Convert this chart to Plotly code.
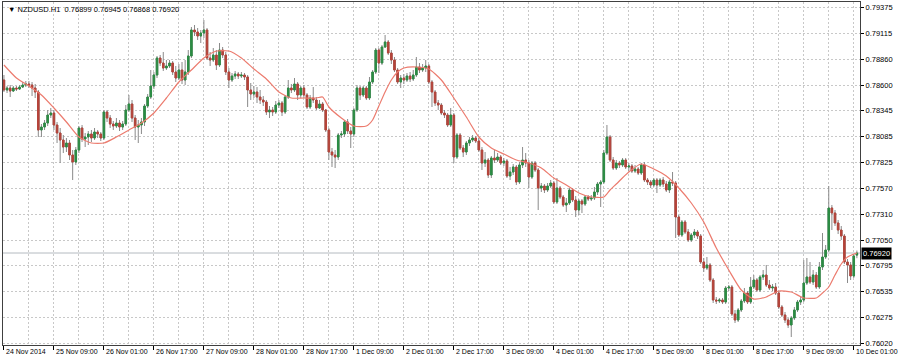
import plotly.graph_objects as go

symbol = "NZDUSD.H1"

# Hourly OHLC in pips (price = value / 10000), bars 0..273
open_p = [
 7865,7855,7857,7854,7857,7856,7858,7860,7861,7860, 7857,7853,7815,7818,7822,7830,7832,7820,7812,7805,
 7798,7802,7790,7783,7795,7817,7806,7808,7811,7807, 7813,7811,7807,7833,7827,7821,7819,7822,7818,7821,
 7835,7841,7827,7818,7820,7823,7839,7848,7859,7870, 7887,7882,7877,7879,7882,7873,7867,7875,7865,7873,
 7889,7915,7913,7909,7912,7915,7887,7885,
 7890,7880,7895,7890,7873,7865,7869,7871,7869,7870, 7868,7855,7851,7853,7848,7845,7843,7833,7835,7833,
 7840,7842,7833,7848,7857,7855,7861,7850,7857,7850, 7838,7847,7845,7837,7841,7835,7815,7793,7790,7788,
 7810,7811,7823,7814,7811,7835,7857,7850,7857,7847, 7863,7873,7895,7882,7898,7903,7892,7885,7875,7863,
 7867,7865,7869,7866,7870,7878,7875,7877,7879,7863,
 7853,7842,7840,7832,7830,7820,7830,7788,7810,7797, 7793,7802,7805,7807,7804,7795,7782,7785,7770,7787,
 7785,7788,7782,7784,7769,7773,7778,7763,7780,7785, 7782,7768,7782,7775,7757,7759,7755,7759,7762,7743,
 7757,7748,7740,7742,7755,7745,7735,7744,7741,7748, 7746,7747,7753,7761,7763,7792,7808,7785,7777,7782,
 7780,7785,7778,7779,7774,7776,7772,7780,
 7765,7763,7760,7765,7760,7765,7761,7755,7763,7762, 7728,7710,7723,7713,7705,7710,7713,7709,7683,7677,
 7680,7665,7645,7644,7645,7643,7657,7658,7631,7625, 7635,7644,7652,7643,7658,7665,7655,7668,7670,7660,
 7657,7658,7652,7638,7630,7625,7620,7627,7635,7643, 7645,7662,7668,7663,7670,7658,7678,7688,7695,7737,
 7732,7722,7715,7709,7683,7680,7669,7689.9]
high_p = [
 7870,7859,7860,7859,7859,7860,7863,7864,7864,7863, 7861,7855,7821,7825,7835,7837,7835,7823,7817,7810,
 7807,7805,7795,7798,7819,7820,7812,7814,7815,7817, 7815,7813,7835,7835,7830,7824,7827,7825,7824,7840,
 7850,7845,7830,7825,7827,7841,7851,7875,7873,7889, 7890,7893,7885,7885,7884,7879,7881,7883,7885,7895,
 7918,7920,7917,7915,7925,7917,7893,7897,
 7895,7902,7898,7893,7877,7872,7874,7873,7873,7872, 7870,7862,7859,7858,7855,7849,7845,7839,7838,7844,
 7845,7844,7850,7865,7861,7867,7863,7859,7860,7852, 7850,7858,7848,7845,7843,7836,7817,7797,7795,7812,
 7814,7825,7826,7818,7837,7860,7859,7859,7859,7868, 7875,7897,7897,7900,7910,7905,7895,7888,7877,7870,
 7871,7872,7873,7875,7888,7882,7881,7885,7881,7865,
 7855,7845,7842,7835,7832,7837,7832,7812,7812,7800, 7804,7808,7810,7809,7807,7798,7793,7787,7789,7795,
 7792,7790,7787,7786,7778,7781,7780,7783,7798,7792, 7785,7784,7784,7777,7762,7761,7762,7765,7764,7767,
 7759,7750,7747,7757,7757,7749,7746,7746,7750,7750, 7750,7758,7763,7765,7795,7820,7810,7788,7785,7784,
 7787,7787,7782,7781,7780,7778,7782,7783,
 7767,7765,7767,7767,7767,7768,7764,7765,7773,7764, 7730,7725,7725,7716,7712,7716,7715,7711,7687,7688,
 7682,7667,7648,7647,7647,7659,7660,7660,7635,7637, 7646,7657,7654,7668,7670,7667,7670,7675,7680,7665,
 7661,7662,7654,7640,7633,7627,7629,7638,7645,7649, 7685,7687,7683,7675,7673,7683,7712,7700,7759,7740,
 7735,7725,7719,7711,7686,7683,7691,7694.5]
low_p = [
 7853,7852,7848,7853,7854,7855,7857,7858,7857,7849, 7847,7808,7808,7815,7819,7827,7815,7802,7782,7792,
 7793,7785,7765,7780,7792,7803,7798,7800,7803,7805, 7807,7804,7805,7823,7817,7815,7817,7814,7815,7819,
 7833,7823,7805,7802,7811,7819,7837,7846,7856,7867, 7879,7874,7875,7877,7870,7863,7865,7861,7860,7870,
 7887,7909,7905,7902,7907,7885,7879,7883,
 7875,7878,7887,7870,7857,7863,7866,7866,7867,7865, 7838,7845,7847,7842,7841,7839,7830,7827,7829,7831,
 7837,7829,7831,7846,7852,7853,7845,7847,7847,7836, 7836,7842,7835,7836,7833,7813,7785,7778,7777,7785,
 7807,7808,7811,7797,7808,7833,7845,7848,7845,7845, 7861,7871,7872,7880,7897,7890,7881,7873,7861,7857,
 7861,7863,7863,7864,7868,7872,7873,7873,7861,7838,
 7839,7835,7830,7827,7818,7818,7782,7786,7795,7788, 7790,7799,7803,7802,7793,7775,7778,7767,7767,7782,
 7783,7780,7779,7767,7765,7770,7760,7761,7777,7778, 7757,7766,7773,7735,7753,7752,7753,7757,7741,7741,
 7746,7738,7733,7740,7743,7728,7730,7732,7739,7744, 7744,7745,7750,7738,7761,7790,7783,7775,7775,7777,
 7778,7776,7774,7772,7772,7770,7770,7763,
 7760,7757,7758,7752,7758,7758,7753,7752,7759,7707, 7708,7708,7711,7703,7703,7707,7706,7681,7673,7675,
 7663,7642,7641,7642,7641,7641,7654,7629,7622,7623, 7633,7642,7641,7641,7656,7653,7653,7665,7658,7655,
 7654,7650,7636,7628,7622,7617,7608,7625,7633,7640, 7643,7660,7661,7660,7656,7656,7675,7686,7693,7715,
 7719,7711,7705,7681,7662,7665,7667,7686.8]
close_p = [
 7855,7857,7854,7857,7856,7858,7860,7861,7860,7857, 7853,7815,7818,7822,7830,7832,7820,7812,7805,7798,
 7802,7790,7783,7795,7817,7806,7808,7811,7807,7813, 7811,7807,7833,7827,7821,7819,7822,7818,7821,7835,
 7841,7827,7818,7820,7823,7839,7848,7859,7870,7887, 7882,7877,7879,7882,7873,7867,7875,7865,7873,7889,
 7915,7913,7909,7912,7915,7887,7885,7890,
 7880,7895,7890,7873,7865,7869,7871,7869,7870,7868, 7855,7851,7853,7848,7845,7843,7833,7835,7833,7840,
 7842,7833,7848,7857,7855,7861,7850,7857,7850,7838, 7847,7845,7837,7841,7835,7815,7793,7790,7788,7810,
 7811,7823,7814,7811,7835,7857,7850,7857,7847,7863, 7873,7895,7882,7898,7903,7892,7885,7875,7863,7867,
 7865,7869,7866,7870,7878,7875,7877,7879,7863,7853,
 7842,7840,7832,7830,7820,7830,7788,7810,7797,7793, 7802,7805,7807,7804,7795,7782,7785,7770,7787,7785,
 7788,7782,7784,7769,7773,7778,7763,7780,7785,7782, 7768,7782,7775,7757,7759,7755,7759,7762,7743,7757,
 7748,7740,7742,7755,7745,7735,7744,7741,7748,7746, 7747,7753,7761,7763,7792,7808,7785,7777,7782,7780,
 7785,7778,7779,7774,7776,7772,7780,7765,
 7763,7760,7765,7760,7765,7761,7755,7763,7762,7728, 7710,7723,7713,7705,7710,7713,7709,7683,7677,7680,
 7665,7645,7644,7645,7643,7657,7658,7631,7625,7635, 7644,7652,7643,7658,7665,7655,7668,7670,7660,7657,
 7658,7652,7638,7630,7625,7620,7627,7635,7643,7645, 7662,7668,7663,7670,7658,7678,7688,7695,7737,7732,
 7722,7715,7709,7683,7680,7669,7689,7692.0]

# Moving average (red line) read at sampled bars, in pips
ma_bar = [0,4,8,12,16,20,24,28,32,36,40,44,48,52,56,60,64,68,72,76,80,84,88,92,96,100,102,104,108,112,
          116,118,120,122,124,126,128,132,136,140,144,148,152,156,160,164,168,172,176,180,184,188,192,194,196,
          200,204,208,212,216,220,224,228,232,236,240,244,248,252,256,260,262,264,266,268,270,273]
ma_val = [7880,7867,7859,7850,7837,7823,7808,7802,7802,7808,7815,7822,7832,7847,7863,7875,7887,7894,7894,7887,
          7876,7866,7853,7847,7847,7847,7848,7838,7827,7819,
          7819,7825,7839,7853,7865,7873,7877,7878,7876,7865,7847,7828,7808,7797,7791,7785,7782,7777,7767,7760,
          7752,7748,7748,7755,7761,
          7773,7781,7776,7769,7757,7742,7723,7697,7675,7655,7646,7648,7654,7653,7647,7647,7652,7658,7670,7681,
          7688,7692]

label_bars = [0,16,32,48,64,80,96,112,128,144,160,176,192,208,224,240,256,272]
x_labels = ["24 Nov 2014","25 Nov 09:00","26 Nov 01:00","26 Nov 17:00","27 Nov 09:00","28 Nov 01:00",
            "28 Nov 17:00","1 Dec 09:00","2 Dec 01:00","2 Dec 17:00","3 Dec 09:00","4 Dec 01:00",
            "4 Dec 17:00","5 Dec 09:00","8 Dec 01:00","8 Dec 17:00","9 Dec 09:00","10 Dec 01:00"]
y_ticks = [0.79375,0.79115,0.78860,0.78600,0.78345,0.78085,0.77825,0.77570,0.77310,0.77050,
           0.76795,0.76535,0.76275,0.76020]

n = len(close_p)
xs = list(range(n))
o = [v / 10000 for v in open_p]
c = [v / 10000 for v in close_p]
h = [max(v / 10000, a, b) for v, a, b in zip(high_p, o, c)]
l = [min(v / 10000, a, b) for v, a, b in zip(low_p, o, c)]
body_top = [max(a, b) for a, b in zip(o, c)]
body_bot = [min(a, b) for a, b in zip(o, c)]
ma = [v / 10000 for v in ma_val]

UP = "#2c8c44"
DOWN = "#b5443a"
WICK = "#8a8a8a"
MA_COL = "#ec7b6e"
GRID = "#c8c8c8"
FONT = "Liberation Sans, Arial, sans-serif"

fig = go.Figure()
fig.add_trace(go.Candlestick(
    x=xs, open=o, high=h, low=l, close=c, whiskerwidth=0,
    increasing=dict(line=dict(color=WICK, width=1), fillcolor=WICK),
    decreasing=dict(line=dict(color=WICK, width=1), fillcolor=WICK),
    hoverinfo="skip", showlegend=False))
fig.add_trace(go.Candlestick(
    x=xs, open=o, high=body_top, low=body_bot, close=c, whiskerwidth=0,
    increasing=dict(line=dict(color=UP, width=1), fillcolor=UP),
    decreasing=dict(line=dict(color=DOWN, width=1), fillcolor=DOWN),
    hoverinfo="skip", showlegend=False))
fig.add_trace(go.Scatter(
    x=ma_bar, y=ma, mode="lines", line=dict(color=MA_COL, width=1.2, shape="spline", smoothing=0.6),
    hoverinfo="skip", showlegend=False))

last_close = c[-1]
fig.add_shape(type="line", xref="paper", x0=0, x1=1, yref="y", y0=last_close, y1=last_close,
              line=dict(color="#b4bac0", width=1), layer="below")

for b, t in zip(label_bars, x_labels):
    fig.add_annotation(x=b, xref="x", y=0, yref="paper", yanchor="top", xanchor="left",
                       xshift=0, yshift=-1, text=t, showarrow=False,
                       font=dict(family=FONT, size=7, color="#000000"))

fig.add_annotation(x=1, xref="paper", y=last_close, yref="y", xanchor="left", yanchor="middle",
                   xshift=1, text=f"{last_close:.5f}", showarrow=False, bgcolor="#000000",
                   borderpad=1, font=dict(family=FONT, size=7.5, color="#ffffff"))

header = f"\u25BC {symbol}  {o[-1]:.5f} {h[-1]:.5f} {l[-1]:.5f} {c[-1]:.5f}"
fig.add_annotation(x=0, xref="paper", y=1, yref="paper", xanchor="left", yanchor="top",
                   xshift=3, yshift=-1, text=header, showarrow=False,
                   font=dict(family=FONT, size=7.5, color="#000000"))

fig.update_layout(
    width=900, height=359, margin=dict(l=3, r=40, t=2, b=14),
    paper_bgcolor="white", plot_bgcolor="white", showlegend=False,
    font=dict(family=FONT, size=7.5, color="#000000"))
fig.update_xaxes(
    range=[-0.3, 274.0], rangeslider_visible=False,
    tickmode="array", tickvals=label_bars, ticktext=[""] * len(label_bars), showticklabels=False,
    ticks="outside", ticklen=4, tickcolor="#000000", tickwidth=1,
    showgrid=True, gridcolor=GRID, griddash="2px,2px", gridwidth=1,
    minor=dict(tickmode="linear", tick0=0, dtick=8, showgrid=True, gridcolor=GRID,
               griddash="2px,2px", gridwidth=1, ticks=""),
    showline=True, linecolor="#404040", linewidth=1, mirror=True, zeroline=False)
fig.update_yaxes(
    side="right", range=[0.7600, 0.7943],
    tickmode="array", tickvals=y_ticks, ticktext=[f"{v:.5f}" for v in y_ticks],
    ticks="outside", ticklen=3, tickcolor="#000000",
    tickfont=dict(family=FONT, size=7.5, color="#000000"),
    showgrid=True, gridcolor=GRID, griddash="2px,2px", gridwidth=1,
    showline=True, linecolor="#404040", linewidth=1, mirror=True, zeroline=False)

fig.write_html("out.html")
